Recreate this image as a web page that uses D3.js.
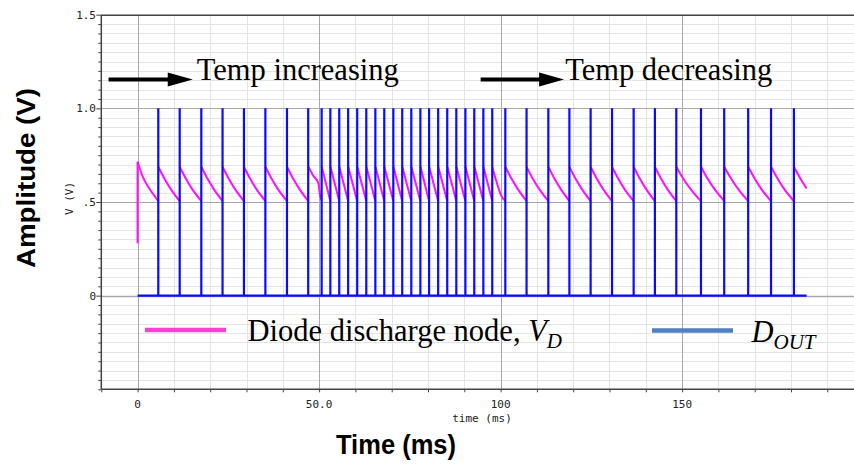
<!DOCTYPE html>
<html>
<head>
<meta charset="utf-8">
<script src="https://cdn.jsdelivr.net/npm/d3@7/dist/d3.min.js"></script>
<style>
  html, body { margin: 0; padding: 0; background: #fff; }
  svg { display: block; }
</style>
</head>
<body>
<svg id="chart" width="854" height="464"></svg>
<script>
// Comparator output D_OUT: pulse times (ms), each pulse goes 0 -> 1.0 V
const spikeTimes = [
  5.7, 11.6, 17.55, 23.4, 29.3, 35.2, 41.15, 47.0,
  50.7, 53.1, 55.55, 58.0, 60.5, 63.0, 65.5, 67.95, 70.45, 72.9, 75.4, 77.9,
  80.3, 82.8, 85.3, 87.8, 90.3, 92.75, 95.25, 97.7,
  101.3, 107.15, 113.15, 118.95, 124.8, 130.7, 136.65, 142.5, 148.4, 155.2,
  161.6, 168.2, 174.5, 180.8
];
const doutStart = 0;
const doutEnd = 184.3;
const doutHigh = 1.0;

// Diode discharge node V_D: one polyline per discharge cycle, [time ms, volts]
const vdCycles = [
  [[0, 0.28], [0, 0.715]],
  [[0, 0.715], [1.4, 0.635], [3.2, 0.573], [5.7, 0.505]],
  [[5.7, 0.688], [7.3, 0.628], [9.1, 0.57], [11.6, 0.505]],
  [[11.6, 0.688], [13.2, 0.628], [15.0, 0.57], [17.55, 0.505]],
  [[17.55, 0.688], [19.15, 0.628], [20.95, 0.57], [23.4, 0.505]],
  [[23.4, 0.688], [25.0, 0.628], [26.8, 0.57], [29.3, 0.505]],
  [[29.3, 0.688], [30.9, 0.628], [32.7, 0.57], [35.2, 0.505]],
  [[35.2, 0.688], [36.8, 0.628], [38.6, 0.57], [41.15, 0.505]],
  [[41.15, 0.688], [42.75, 0.628], [44.55, 0.57], [47.0, 0.505]],
  [[47.0, 0.69], [48.4, 0.64], [49.8, 0.60], [50.3, 0.53], [50.7, 0.51]],
  [[50.7, 0.69], [53.1, 0.505]],
  [[53.1, 0.69], [55.55, 0.505]],
  [[55.55, 0.69], [58.0, 0.505]],
  [[58.0, 0.69], [60.5, 0.505]],
  [[60.5, 0.69], [63.0, 0.505]],
  [[63.0, 0.69], [65.5, 0.505]],
  [[65.5, 0.69], [67.95, 0.505]],
  [[67.95, 0.69], [70.45, 0.505]],
  [[70.45, 0.69], [72.9, 0.505]],
  [[72.9, 0.69], [75.4, 0.505]],
  [[75.4, 0.69], [77.9, 0.505]],
  [[77.9, 0.69], [80.3, 0.505]],
  [[80.3, 0.69], [82.8, 0.505]],
  [[82.8, 0.69], [85.3, 0.505]],
  [[85.3, 0.69], [87.8, 0.505]],
  [[87.8, 0.69], [90.3, 0.505]],
  [[90.3, 0.69], [92.75, 0.505]],
  [[92.75, 0.69], [95.25, 0.505]],
  [[95.25, 0.69], [97.7, 0.505]],
  [[97.7, 0.685], [99.0, 0.60], [100.1, 0.537], [101.3, 0.505]],
  [[101.3, 0.688], [102.9, 0.628], [104.7, 0.57], [107.15, 0.505]],
  [[107.15, 0.688], [108.75, 0.628], [110.6, 0.57], [113.15, 0.505]],
  [[113.15, 0.688], [114.75, 0.628], [116.55, 0.57], [118.95, 0.505]],
  [[118.95, 0.688], [120.55, 0.628], [122.35, 0.57], [124.8, 0.505]],
  [[124.8, 0.688], [126.4, 0.628], [128.2, 0.57], [130.7, 0.505]],
  [[130.7, 0.688], [132.3, 0.628], [134.1, 0.57], [136.65, 0.505]],
  [[136.65, 0.688], [138.25, 0.628], [140.05, 0.57], [142.5, 0.505]],
  [[142.5, 0.688], [144.1, 0.628], [145.9, 0.57], [148.4, 0.505]],
  [[148.4, 0.688], [150.2, 0.628], [152.3, 0.57], [155.2, 0.505]],
  [[155.2, 0.688], [156.9, 0.628], [158.9, 0.57], [161.6, 0.505]],
  [[161.6, 0.688], [163.4, 0.628], [165.4, 0.57], [168.2, 0.505]],
  [[168.2, 0.688], [169.9, 0.628], [171.8, 0.57], [174.5, 0.505]],
  [[174.5, 0.688], [176.2, 0.628], [178.1, 0.57], [180.8, 0.505]],
  [[180.8, 0.688], [182.5, 0.628], [184.3, 0.572]]
];

// Axis ticks and labels
const xMajorTicks = [0, 50, 100, 150, 200];
const xTickLabels = ["0", "50.0", "100", "150", "200"];
const xMinorTicks = d3.range(-10, 201, 10);
const yMajorTicks = [0, 0.5, 1.0, 1.5];
const yTickLabels = ["0", ".5", "1.0", "1.5"];
const yMinorTicks = d3.range(-0.5, 1.5001, 0.05).map(v => +v.toFixed(2));

// Annotations and legend
const annotations = [
  { text: "Temp increasing", t: 16.3, v: 1.16, arrowFrom: -8, arrowTo: 15.2 },
  { text: "Temp decreasing", t: 117.8, v: 1.16, arrowFrom: 94.5, arrowTo: 117.5 }
];
const legendItems = [
  { base: "Diode discharge node, ", sym: "V", sub: "D", color: "#ff3fd0" },
  { base: "", sym: "D", sub: "OUT", color: "#4f81bd" }
];

const svg = d3.select("#chart");
const x = d3.scaleLinear().domain([-10, 200]).range([101.3, 101.3 + 210 * 3.63]);
const y = d3.scaleLinear().domain([-0.5, 1.5]).range([389.3, 14.7]);
const plotLeft = x(-10), plotRight = 854, plotTop = y(1.5), plotBottom = y(-0.5);

svg.append("defs").append("clipPath").attr("id", "plotClip")
  .append("rect")
  .attr("x", plotLeft).attr("y", plotTop)
  .attr("width", plotRight - plotLeft).attr("height", plotBottom - plotTop);

const grid = svg.append("g").attr("clip-path", "url(#plotClip)");

// minor grid
grid.selectAll(".hminor").data(yMinorTicks).join("line")
  .attr("x1", plotLeft).attr("x2", plotRight)
  .attr("y1", d => Math.round(y(d)) + 0.5).attr("y2", d => Math.round(y(d)) + 0.5)
  .attr("stroke", "#e4e4e4").attr("stroke-width", 1);
grid.selectAll(".vminor").data(xMinorTicks).join("line")
  .attr("y1", plotTop).attr("y2", plotBottom)
  .attr("x1", d => Math.round(x(d)) + 0.5).attr("x2", d => Math.round(x(d)) + 0.5)
  .attr("stroke", "#e4e4e4").attr("stroke-width", 1);

// major grid
grid.selectAll(".hmajor").data(yMajorTicks).join("line")
  .attr("x1", plotLeft).attr("x2", plotRight)
  .attr("y1", d => Math.round(y(d)) + 0.5).attr("y2", d => Math.round(y(d)) + 0.5)
  .attr("stroke", "#a8a8a8").attr("stroke-width", d => d === 0 ? 1.6 : 1);
grid.selectAll(".vmajor").data(xMajorTicks).join("line")
  .attr("y1", plotTop).attr("y2", plotBottom)
  .attr("x1", d => Math.round(x(d)) + 0.5).attr("x2", d => Math.round(x(d)) + 0.5)
  .attr("stroke", "#a8a8a8").attr("stroke-width", 1);

// V_D trace
const plot = svg.append("g").attr("clip-path", "url(#plotClip)");
const vdLine = d3.line().x(d => x(d[0])).y(d => y(d[1])).curve(d3.curveMonotoneX);
plot.selectAll(".vd").data(vdCycles).join("path")
  .attr("d", vdLine)
  .attr("fill", "none")
  .attr("stroke", "#ff10ff")
  .attr("stroke-width", 2)
  .attr("stroke-linejoin", "round");

// D_OUT trace
const doutPts = [[doutStart, 0]];
spikeTimes.forEach(s => { doutPts.push([s, 0], [s, doutHigh], [s, 0]); });
doutPts.push([doutEnd, 0]);
plot.append("path")
  .attr("d", d3.line().x(d => x(d[0])).y(d => y(d[1]))(doutPts))
  .attr("fill", "none")
  .attr("stroke", "#0a0aff")
  .attr("stroke-width", 2.2);

// axes frame
const axisColor = "#444";
svg.append("line").attr("x1", plotLeft).attr("x2", plotRight)
  .attr("y1", plotTop + 0.5).attr("y2", plotTop + 0.5)
  .attr("stroke", axisColor).attr("stroke-width", 1.5);

const xAxis = d3.axisBottom(x).tickValues(xMinorTicks).tickSize(3).tickFormat("");
const gx = svg.append("g").attr("transform", `translate(0,${plotBottom})`).call(xAxis);
gx.select(".domain").attr("d", `M${plotLeft},0H${plotRight}`).attr("stroke", axisColor).attr("stroke-width", 1.5);
gx.selectAll(".tick line").attr("stroke", axisColor);

const yAxis = d3.axisLeft(y).tickValues(yMinorTicks).tickSize(3).tickFormat("");
const gy = svg.append("g").attr("transform", `translate(${plotLeft},0)`).call(yAxis);
gy.select(".domain").attr("d", `M0,${plotTop}V${plotBottom}`).attr("stroke", axisColor).attr("stroke-width", 1.5);
gy.selectAll(".tick line").attr("stroke", axisColor)
  .attr("x2", d => yMajorTicks.some(m => Math.abs(m - d) < 1e-6) ? -5 : -3);

// tick labels
const mono = "'DejaVu Sans Mono', monospace";
svg.append("g").selectAll("text").data(xMajorTicks).join("text")
  .filter(d => x(d) < plotRight)
  .attr("x", d => x(d)).attr("y", 408)
  .attr("text-anchor", "middle")
  .attr("font-family", mono).attr("font-size", 11).attr("fill", "#222")
  .text((d, i) => xTickLabels[xMajorTicks.indexOf(d)]);
svg.append("g").selectAll("text").data(yMajorTicks).join("text")
  .attr("x", 96).attr("y", d => y(d) + 4)
  .attr("text-anchor", "end")
  .attr("font-family", mono).attr("font-size", 11).attr("fill", "#222")
  .text((d, i) => yTickLabels[i]);

svg.append("text").attr("x", 482).attr("y", 422)
  .attr("text-anchor", "middle")
  .attr("font-family", mono).attr("font-size", 11).attr("fill", "#222")
  .text("time (ms)");
svg.append("text")
  .attr("transform", "translate(73,198.5) rotate(-90)")
  .attr("text-anchor", "middle")
  .attr("font-family", mono).attr("font-size", 11).attr("fill", "#222")
  .text("V (V)");

// axis titles
const sansBold = "'Liberation Sans', Arial, sans-serif";
svg.append("text").attr("x", 396).attr("y", 453.5)
  .attr("text-anchor", "middle")
  .attr("font-family", sansBold).attr("font-weight", "bold").attr("font-size", 27)
  .attr("textLength", 120).attr("lengthAdjust", "spacingAndGlyphs")
  .text("Time (ms)");
svg.append("text")
  .attr("transform", "translate(35,178) rotate(-90)")
  .attr("text-anchor", "middle")
  .attr("font-family", sansBold).attr("font-weight", "bold").attr("font-size", 25)
  .attr("textLength", 180).attr("lengthAdjust", "spacingAndGlyphs")
  .text("Amplitude (V)");

// temperature annotations with arrows
const serif = "'Liberation Serif', 'Times New Roman', serif";
annotations.forEach(a => {
  const ay = y(a.v) + 1;
  const x0 = x(a.arrowFrom), x1 = x(a.arrowTo);
  svg.append("line")
    .attr("x1", x0).attr("x2", x1 - 22)
    .attr("y1", ay).attr("y2", ay)
    .attr("stroke", "#000").attr("stroke-width", 4);
  svg.append("path")
    .attr("d", `M${x1 - 25},${ay - 7}L${x1},${ay}L${x1 - 25},${ay + 7}Z`)
    .attr("fill", "#000");
  svg.append("text")
    .attr("x", x(a.t)).attr("y", 80)
    .attr("font-family", serif).attr("font-size", 30.5).attr("fill", "#000")
    .text(a.text);
});

// legend
const legendRows = [
  { lx0: 145, lx1: 226, ly: 330, tx: 247.5, ty: 341 },
  { lx0: 652, lx1: 733, ly: 330.5, tx: 751.5, ty: 342 }
];
legendItems.forEach((item, i) => {
  const r = legendRows[i];
  svg.append("line")
    .attr("x1", r.lx0).attr("x2", r.lx1).attr("y1", r.ly).attr("y2", r.ly)
    .attr("stroke", item.color).attr("stroke-width", 4.5);
  const t = svg.append("text")
    .attr("x", r.tx).attr("y", r.ty)
    .attr("font-family", serif).attr("font-size", 30.5).attr("fill", "#000");
  if (item.base) t.append("tspan").text(item.base);
  t.append("tspan").attr("font-style", "italic").text(item.sym);
  t.append("tspan").attr("font-style", "italic").attr("font-size", 21)
    .attr("dy", 7).text(item.sub);
});
</script>
</body>
</html>
